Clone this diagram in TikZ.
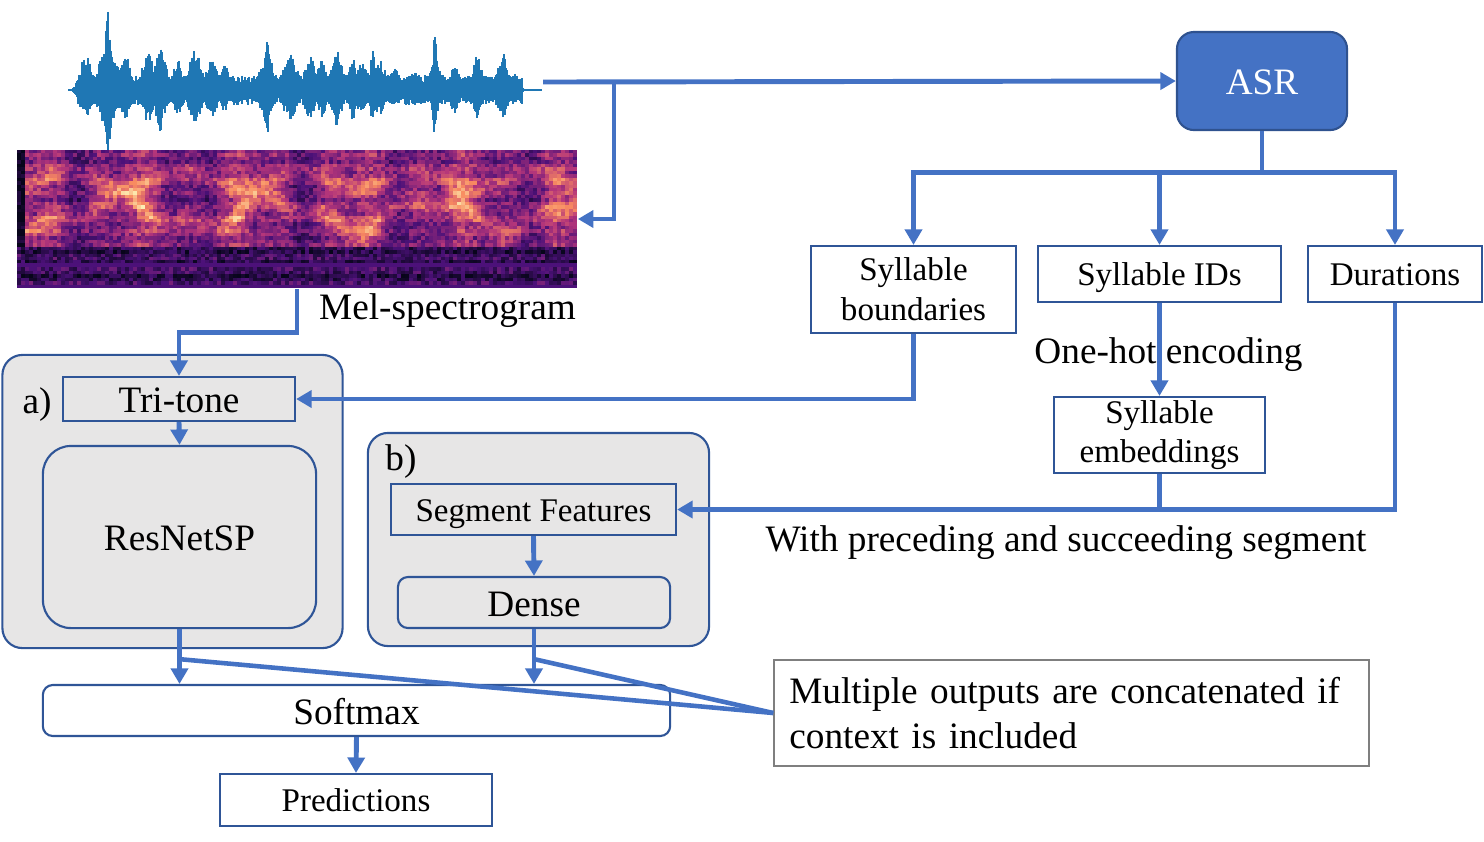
\documentclass[tikz,border=0pt]{standalone}
\usepackage{fontspec}
\setmainfont{Liberation Serif}
\usetikzlibrary{arrows.meta}
\definecolor{linkblue}{HTML}{4472C4}
\definecolor{edgeblue}{HTML}{2F5597}
\definecolor{asredge}{HTML}{2F528F}
\definecolor{panelgray}{HTML}{E7E6E6}
\definecolor{notegray}{HTML}{7F7F7F}
\definecolor{waveblue}{HTML}{1F77B4}
\definecolor{mag0}{HTML}{07051A}
\definecolor{mag1}{HTML}{4C1179}
\definecolor{mag2}{HTML}{B5367A}
\definecolor{mag3}{HTML}{F88B60}
\definecolor{mag4}{HTML}{FCEFB4}
\begin{document}
\begin{tikzpicture}[x=0.01cm,y=-0.01cm,
  bigf/.style={font=\fontsize{10.6}{12.6}\selectfont},
  smallf/.style={font=\fontsize{9.4}{11.3}\selectfont},
  big/.style={bigf,text height=9.8pt,text depth=2.1pt},
  small/.style={smallf,text height=8.7pt,text depth=1.9pt},
  box/.style={draw=edgeblue,line width=0.6pt,inner sep=0pt,align=center},
  panel/.style={box,fill=panelgray,rounded corners=0.2cm},
  conn/.style={draw=linkblue,line width=1.4pt,-{Triangle[length=4.4pt,width=4.8pt]}},
  link/.style={draw=linkblue,line width=1.3pt},
  wave/.style={waveblue,line width=0.45pt}]
  \useasboundingbox (0,0) rectangle (1484,841);

  % waveform
  \pgfmathsetseed{12}
  \draw[wave] (68,90) -- (542,90);
  \foreach \x in {78,79,...,522}
  {
    \draw[wave] (\x,{90-(7+8*rnd)}) -- (\x,{90+(7+8*rnd)});
  }
  \foreach \c/\h/\w in {86/36/8,108/80/4,108/48/12,125/36/8,148/38/8,160/57/4,
                        160/36/10,178/30/7,195/40/9,212/32/8,225/26/6,245/10/12,
                        267/58/3,267/36/10,290/36/10,310/34/8,322/34/6,337/44/4,
                        337/32/10,353/36/5,362/30/8,373/40/4,380/30/8,395/22/8,
                        415/18/10,435/57/3,435/32/7,455/30/6,477/36/5,477/26/10,
                        503/40/4,503/28/10,515/18/6}
  {
    \pgfmathsetmacro\xa{\c-2*\w}
    \pgfmathsetmacro\xb{\c-2*\w+1}
    \pgfmathsetmacro\xc{\c+2*\w}
    \foreach \x in {\xa,\xb,...,\xc}
    {
      \pgfmathsetmacro\e{\h*exp(-((\x-\c)/\w)^2)}
      \draw[wave] (\x,{90-\e*(0.6+0.4*rnd)}) -- (\x,{90+0.85*\e*(0.6+0.4*rnd)});
    }
  }
  \coordinate (wavout) at (543,82);
  \coordinate (split) at (614,82);

  % mel-spectrogram
  \fill[mag0] (17,150) rectangle (577,288);
  \foreach \i in {0,...,139}
  {
    \foreach \j in {0,...,39}
    {
      \pgfmathsetmacro\xx{19+4*\i}
      \pgfmathsetmacro\yy{151.7+3.45*\j}
      \pgfmathsetmacro\v{max(0,min(0.999,(\yy<247)*(0.48+0.07*sin(97*\j)
        +0.36*exp(max(-9,-((\yy-214-14*sin(2.3*\xx)-6*sin(5.2*\xx))/11)^2))
        +0.3*exp(max(-9,-((\yy-180-8*sin(3.1*\xx+60))/9)^2)))
        *(0.74+0.16*sin(3.3*\xx)+0.1*sin(7.9*\xx+30))*(\xx>26)
        +(\yy>=247)*(0.17+0.06*sin(97*\j))+0.26*(rnd-0.5)))}
      \pgfmathtruncatemacro\k{\v*4}
      \pgfmathtruncatemacro\kk{\k+1}
      \pgfmathtruncatemacro\p{100-100*(\v*4-\k)}
      \fill[mag\k!\p!mag\kk] ({17+4*\i},{150+3.45*\j}) rectangle ++(4,3.45);
    }
  }
  \fill[mag1] (17,263) rectangle (577,267);
  \fill[mag1] (17,285) rectangle (577,288);
  \node[inner sep=0pt,minimum width=5.6cm,minimum height=1.38cm] (mel) at (297,219) {};
  \node[big] (meltxt) at (447.5,306) {Mel-spectrogram};

  % panels a) and b)
  \node[panel,minimum width=3.4cm,minimum height=2.93cm] (pa) at (172.5,501.5) {};
  \node[panel,minimum width=3.41cm,minimum height=2.13cm] (pb) at (538.5,539.5) {};
  \node[big] (la) at (37,400) {a)};
  \node[big] (lb) at (401,457) {b)};
  \node[box,big,minimum width=2.32cm,minimum height=0.44cm] (tri) at (179,399) {Tri-tone};
  \node[box,big,rounded corners=0.28cm,minimum width=2.73cm,minimum height=1.82cm] (res) at (179.5,537) {ResNetSP};
  \node[box,small,minimum width=2.85cm,minimum height=0.51cm] (seg) at (533.5,509.5) {Segment Features};
  \node[box,big,rounded corners=0.1cm,minimum width=2.72cm,minimum height=0.51cm] (dense) at (534,602.5) {Dense};
  \node[box,big,rounded corners=0.1cm,minimum width=6.27cm,minimum height=0.51cm] (soft) at (356.5,710.5) {Softmax};
  \node[box,small,minimum width=2.72cm,minimum height=0.52cm] (pred) at (356,800) {Predictions};

  % ASR side
  \node[box,big,draw=asredge,fill=linkblue,text=white,rounded corners=0.17cm,minimum width=1.7cm,minimum height=0.98cm] (asr) at (1262,81) {ASR};
  \node[box,smallf,minimum width=2.05cm,minimum height=0.87cm] (bound) at (913.5,289.5) {Syllable\\boundaries};
  \node[box,small,minimum width=2.43cm,minimum height=0.56cm] (ids) at (1159.5,274) {Syllable IDs};
  \node[box,small,minimum width=1.74cm,minimum height=0.56cm] (dur) at (1395,274) {Durations};
  \node[big] (onehot) at (1168.5,350) {One-hot encoding};
  \node[box,smallf,minimum width=2.11cm,minimum height=0.76cm] (emb) at (1159.5,435) {Syllable\\embeddings};
  \node[big] (ctx) at (1066,538) {With preceding and succeeding segment};
  \node[draw=notegray,line width=0.6pt,bigf,minimum width=5.94cm,minimum height=1.06cm,
        text width=5.64cm,align=left,inner xsep=0.15cm] (note) at (1071.5,713)
        {Multiple outputs are concatenated if\\context is included};

  % connectors
  \draw[conn] (wavout) -- (asr.west);
  \draw[conn] (split) |- (mel.east);
  \draw[conn] (mel.south) -- ++(0,44) -| (tri.north);
  \draw[link] (asr.south) -- ++(0,41) coordinate (asrsplit);
  \draw[conn] (asrsplit) -| (bound.north);
  \draw[conn] (asrsplit) -| (ids.north);
  \draw[conn] (asrsplit) -| (dur.north);
  \draw[conn] (bound.south) |- (tri.east);
  \draw[conn] (ids.south) -- (emb.north);
  \draw[link] (emb.south) -- (emb.south |- seg.east);
  \draw[conn] (dur.south) |- (seg.east);
  \draw[conn] (tri.south) -- (res.north);
  \draw[conn] (seg.south) -- (dense.north);
  \draw[conn] (res.south) -- (res.south |- soft.north);
  \draw[conn] (dense.south) -- (dense.south |- soft.north);
  \draw[conn] (soft.south) -- (pred.north);
  \draw[link] (note.west) -- ([yshift=-0.3cm]res.south);
  \draw[link] (note.west) -- ([yshift=-0.3cm]dense.south);
\end{tikzpicture}
\end{document}
